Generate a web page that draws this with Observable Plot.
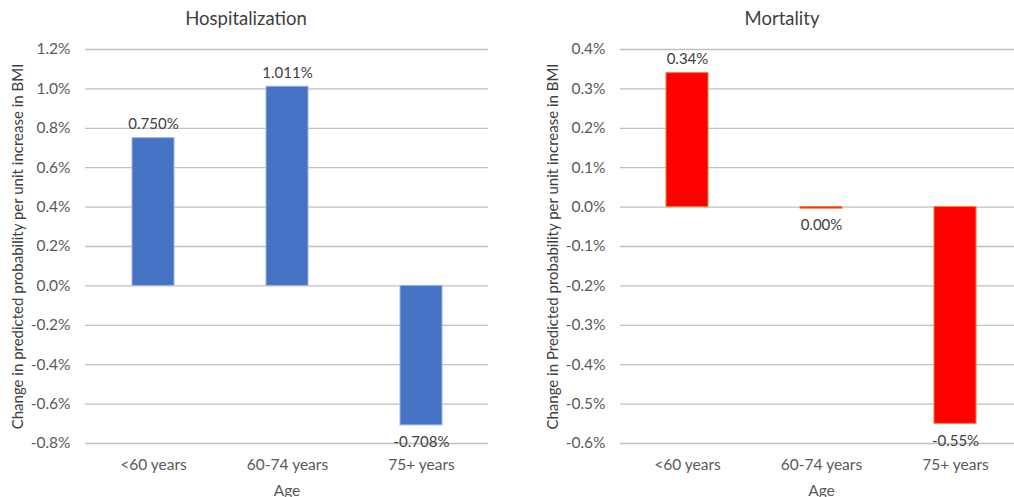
<!DOCTYPE html>
<html>
<head>
<meta charset="utf-8">
<script src="https://cdn.jsdelivr.net/npm/d3@7"></script>
<script src="https://cdn.jsdelivr.net/npm/@observablehq/plot@0.6"></script>
<style>
  html, body { margin: 0; padding: 0; background: #fff; }
  #wrap { position: relative; width: 1014px; height: 497px; overflow: hidden; font-family: Lato, "Open Sans", sans-serif; }
  .panel { position: absolute; top: 0; }
  .panel svg { max-width: none !important; }
  .title { position: absolute; top: 7px; font-size: 18.5px; color: #404040; transform: translateX(-50%); white-space: nowrap; }
</style>
</head>
<body>
<div id="wrap">
  <div class="panel" id="left" style="left:0px;width:492px"></div>
  <div class="panel" id="right" style="left:520px;width:520px"></div>
  <div class="title" style="left:246px">Hospitalization</div>
  <div class="title" style="left:782px">Mortality</div>
</div>
<script>
const ageGroups = ["<60 years", "60-74 years", "75+ years"];
const hospValues = [0.00750, 0.01011, -0.00708];
const mortValues = [0.0034, -0.00004, -0.0055];
const hospTicks = [-0.008, -0.006, -0.004, -0.002, 0, 0.002, 0.004, 0.006, 0.008, 0.010, 0.012];
const mortTicks = [-0.006, -0.005, -0.004, -0.003, -0.002, -0.001, 0, 0.001, 0.002, 0.003, 0.004];
const hospYLabel = "Change in predicted probability per unit increase in BMI";
const mortYLabel = "Change in Predicted probability per unit increase in BMI";
const xLabel = "Age";

const locale = d3.formatLocale({decimal: ".", thousands: ",", grouping: [3], currency: ["$", ""], minus: "-", percent: "%"});
const tickFmt = locale.format(".1%");
const padInner = 0.69, padOuter = 0.345;

function panel(values, ticks, decimals, yLabel, fill, stroke, opts) {
  const data = ageGroups.map((g, i) => ({g, v: values[i]}));
  const labFmt = locale.format("." + decimals + "%");
  const pos = data.filter(d => d.v >= 0), neg = data.filter(d => d.v < 0);
  const labelStyle = {x: "g", y: "v", text: d => labFmt(d.v), fill: "#404040", fontSize: 15};
  return Plot.plot({
    width: opts.width,
    height: 497,
    marginLeft: opts.marginLeft,
    marginRight: opts.marginRight,
    marginTop: 49,
    marginBottom: 54,
    style: {fontFamily: "Lato, 'Open Sans', sans-serif", fontSize: "15.5px", color: "#595959", background: "transparent", overflow: "visible"},
    x: {domain: ageGroups, paddingInner: padInner, paddingOuter: padOuter, label: xLabel, labelAnchor: "center", labelOffset: 52, tickSize: 0, tickPadding: 15},
    y: {domain: [ticks[0], ticks[ticks.length - 1]], ticks, tickFormat: tickFmt, tickSize: 0, tickPadding: 15, label: null},
    marks: [
      Plot.ruleY(ticks, {stroke: "#c0c0c0", strokeWidth: 1.3}),
      Plot.barY(data, {x: "g", y: "v", fill, stroke, strokeWidth: 1}),
      Plot.text(pos, {...labelStyle, dy: -14}),
      Plot.text(neg, {...labelStyle, dy: 17}),
      Plot.text([yLabel], {frameAnchor: "left", textAnchor: "middle", rotate: -90, dx: -opts.labelDx, fill: "#404040", fontSize: 15})
    ]
  });
}

const left = panel(hospValues, hospTicks, 3, hospYLabel, "#4472C4", "#9DB5E0", {width: 492, marginLeft: 85, marginRight: 4, labelDx: 67});
const right = panel(mortValues, mortTicks, 2, mortYLabel, "#FF0000", "#ED7D31", {width: 520, marginLeft: 100, marginRight: 18, labelDx: 67});
document.getElementById("left").appendChild(left);
document.getElementById("right").appendChild(right);
</script>
</body>
</html>
